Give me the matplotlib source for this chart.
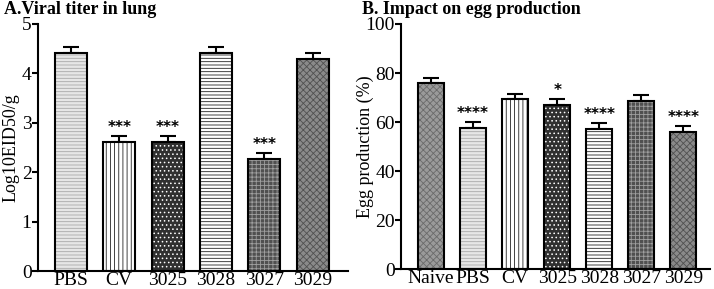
import numpy as np
import matplotlib
matplotlib.use("Agg")
import matplotlib.pyplot as plt

plt.rcParams['font.family'] = ['Liberation Serif', 'DejaVu Serif']
plt.rcParams['hatch.linewidth'] = 0.6

# Panel A : viral titer in lung
groups_a = ["PBS", "CV", "3025", "3028", "3027", "3029"]
titer = [4.41, 2.61, 2.61, 4.41, 2.27, 4.29]
titer_err = [0.12, 0.12, 0.12, 0.12, 0.12, 0.12]
stars_a = ["", "***", "***", "", "***", ""]

# Panel B : egg production
groups_b = ["Naive", "PBS", "CV", "3025", "3028", "3027", "3029"]
egg = [75.8, 57.6, 69.4, 66.9, 57.0, 68.6, 56.0]
egg_err = [2.0, 2.4, 2.0, 2.3, 2.4, 2.4, 2.4]
stars_b = ["", "****", "", "*", "****", "", "****"]

# textures (face colour, hatch, hatch colour) per group
tex = {
    "Naive": ("#9a9a9a", "xxxxx", "#6a6a6a"),
    "PBS": ("#e6e6e6", "-----", "#a8a8a8"),
    "CV": ("white", "||||", "#222222"),
    "3025": ("#303030", "....", "white"),
    "3028": ("white", "-----", "#222222"),
    "3027": ("#505050", "++++", "#a0a0a0"),
    "3029": ("#8a8a8a", "xxxxx", "#505050"),
}


def panel(ax, groups, vals, errs, stars, width, ylim, yticks, star_off):
    x = np.arange(len(groups))
    for i, g in enumerate(groups):
        fc, h, hc = tex[g]
        ax.bar(x[i], vals[i], width, color=fc, edgecolor=hc, hatch=h, linewidth=0, zorder=2)
    ax.bar(x, vals, width, fill=False, edgecolor="black", linewidth=1.5, zorder=3)
    ax.errorbar(x, vals, yerr=[np.zeros(len(x)), errs], fmt="none", ecolor="black",
                elinewidth=1.5, capsize=6, capthick=1.5, zorder=1)
    for i, s in enumerate(stars):
        if s:
            ax.text(x[i], vals[i] + errs[i] + star_off, s, ha="center", va="center",
                    fontsize=11, fontweight="bold", family="DejaVu Sans")
    ax.set_ylim(*ylim)
    ax.set_yticks(yticks)
    ax.set_xticks(x)
    ax.set_xticklabels(groups, fontsize=14)
    ax.tick_params(axis="x", length=0, pad=1)
    ax.tick_params(axis="y", length=4, width=1.5, labelsize=14, pad=0.5)
    for sp in ["top", "right"]:
        ax.spines[sp].set_visible(False)
    for sp in ["left", "bottom"]:
        ax.spines[sp].set_linewidth(1.5)


fig = plt.figure(figsize=(7.14, 2.89), dpi=100)

ax1 = fig.add_axes([0.053, 0.062, 0.434, 0.855])
panel(ax1, groups_a, titer, titer_err, stars_a, 0.66, (0, 5), [0, 1, 2, 3, 4, 5], 0.17)
ax1.set_xlim(-0.68, 5.72)
ax1.set_ylabel("Log10EID50/g", fontsize=13)
ax1.yaxis.set_label_coords(-0.058, 0.5)

ax2 = fig.add_axes([0.562, 0.069, 0.432, 0.848])
panel(ax2, groups_b, egg, egg_err, stars_b, 0.63, (0, 100), [0, 20, 40, 60, 80, 100], 3.5)
ax2.set_xlim(-0.71, 6.63)
ax2.set_ylabel("Egg production (%)", fontsize=13)
ax2.yaxis.set_label_coords(-0.09, 0.5)

fig.text(0.006, 0.997, "A.Viral titer in lung", fontsize=13, fontweight="bold", va="top")
fig.text(0.507, 0.997, "B. Impact on egg production", fontsize=13, fontweight="bold", va="top")

fig.savefig("out.png", dpi=100)
